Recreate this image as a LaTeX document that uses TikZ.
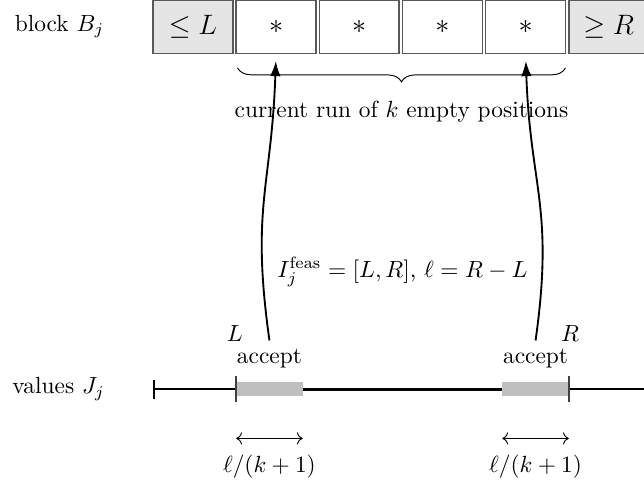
\documentclass[tikz,border=0pt]{standalone}
\usepackage{amsmath,amssymb}
\usetikzlibrary{positioning,calc,decorations.pathreplacing,arrows.meta}
\tikzset{
cellbox/.style={draw=black!65,semithick,minimum width=1.2cm,minimum height=0.8cm,inner sep=0pt,font=\large},
bound/.style={fill=gray!20},
axisline/.style={thick,{Bar[width=8pt]}-{Bar[width=8pt]}},
feasseg/.style={very thick},
acceptbar/.style={line width=6pt,gray!50},
tickmark/.style={black!75,semithick},
runbrace/.style={decorate,decoration={brace,mirror,amplitude=6pt}},
pickarrow/.style={-{Latex[length=6.5pt,width=4.5pt]},thick,shorten >=3pt},
lenarrow/.style={<->}
}

\begin{document}
\begin{tikzpicture}
\useasboundingbox (-2.3,-1.46) rectangle (7.38,5.85);
\clip (-2.3,-1.46) rectangle (7.38,5.85);
\node[cellbox,bound] (c0) at (0.6,5.45) {$\le L$};
\foreach \i in {1,...,4}
  \node[cellbox] (c\i) at (0.6+1.25*\i,5.45) {$*$};
\node[cellbox,bound] (c5) at (6.85,5.45) {$\ge R$};
\node[left=0.6cm of c0] (blk) {block $B_j$};

\coordinate (v0) at (0,0);
\coordinate (v1) at (7.45,0);
\coordinate (pL) at (1.25,0);
\coordinate (pR) at (6.25,0);
\coordinate (qL) at (2.25,0);
\coordinate (qR) at (5.25,0);
\node[left=0.6cm of v0] (vals) {values $J_j$};
\draw[axisline] (v0) -- (v1);
\draw[feasseg] (pL) -- (pR);
\draw[acceptbar] (pL) -- (qL);
\draw[acceptbar] (qR) -- (pR);
\draw[tickmark] ($(pL)+(0,-0.2)$) -- ($(pL)+(0,0.2)$);
\draw[tickmark] ($(pR)+(0,-0.2)$) -- ($(pR)+(0,0.2)$);

\node[above] (accL) at (1.75,0.2) {accept};
\node[above] (accR) at (5.75,0.2) {accept};
\node (labL) at (1.23,0.84) {$L$};
\node (labR) at (6.27,0.84) {$R$};
\node (feas) at (3.75,1.76) {$I_j^{\mathrm{feas}}=[L,R]$, $\ell=R-L$};

\draw[runbrace] (1.27,4.83) -- (6.2,4.83);
\coordinate (braceTip) at (3.735,4.62);
\node[below=0.17cm of braceTip] (runlbl) {current run of $k$ empty positions};

\draw[pickarrow] (accL.north) to[out=98,in=-92,looseness=1.2] (c1.south);
\draw[pickarrow] (accR.north) to[out=82,in=-88,looseness=1.2] (c4.south);

\coordinate (dL1) at (1.25,-0.74);
\coordinate (dL2) at (2.25,-0.74);
\coordinate (dR1) at (5.25,-0.74);
\coordinate (dR2) at (6.25,-0.74);
\draw[lenarrow] (dL1) -- (dL2);
\draw[lenarrow] (dR1) -- (dR2);
\node (lenL) at (1.75,-1.16) {$\ell/(k+1)$};
\node (lenR) at (5.75,-1.16) {$\ell/(k+1)$};
\end{tikzpicture}
\end{document}
